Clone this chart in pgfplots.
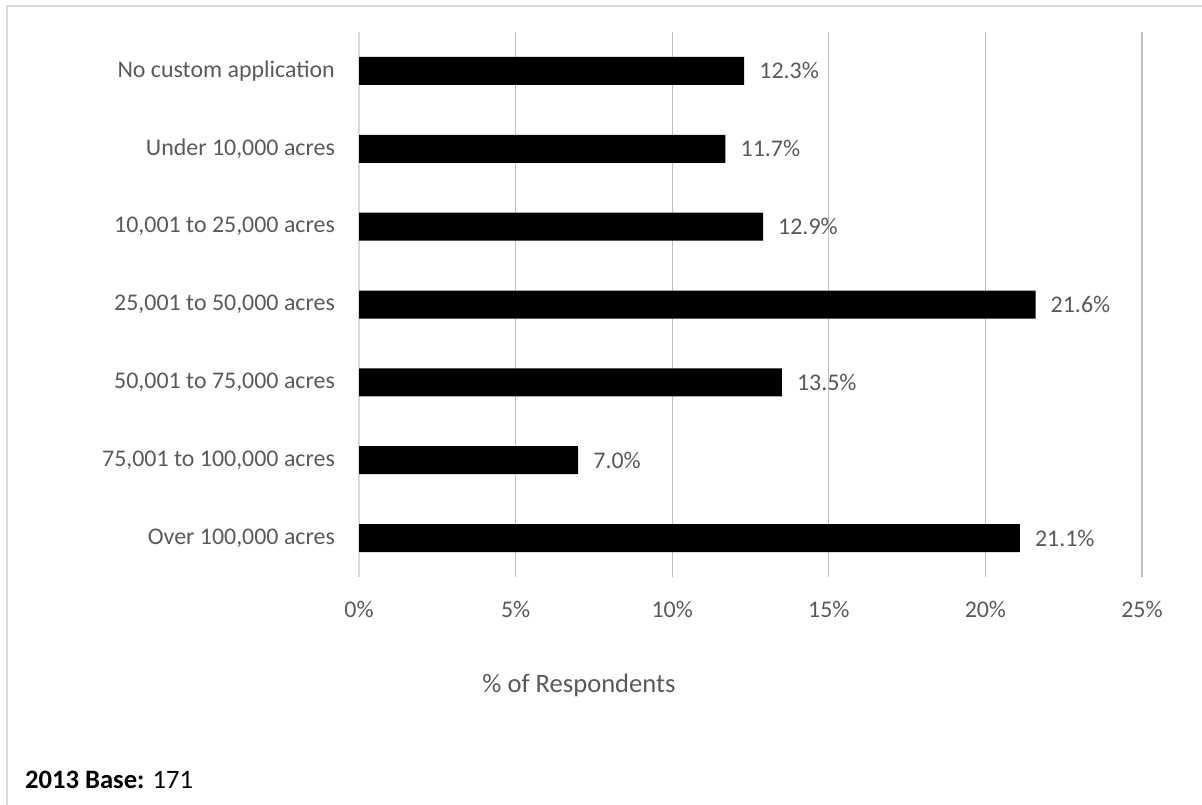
\documentclass[border=0pt]{standalone}
\usepackage{pgfplots}
\pgfplotsset{compat=1.18}
\usepackage{fontspec}
\setmainfont{Carlito}
\definecolor{txt}{HTML}{595959}
\definecolor{grid}{HTML}{D9D9D9}
\begin{document}
\begin{tikzpicture}[x=1bp,y=1bp]
\useasboundingbox (0,0) rectangle (1202,-805);
\draw[grid,line width=2bp] (7,-805) -- (7,-6) -- (1202,-6);
\begin{axis}[
  at={(359bp,-577bp)}, anchor=south west,
  scale only axis, width=783bp, height=545bp,
  xbar, bar width=28bp,
  xmin=0, xmax=25,
  ymin=-0.5, ymax=6.5,
  ytick={0,...,6},
  yticklabels={{Over 100,000 acres},{75,001 to 100,000 acres},{50,001 to 75,000 acres},{25,001 to 50,000 acres},{10,001 to 25,000 acres},{Under 10,000 acres},{No custom application}},
  xtick={0,5,...,25},
  xticklabel={\pgfmathprintnumber{\tick}\%},
  /pgf/number format/assume math mode=true,
  separate axis lines,
  axis x line*=bottom, axis y line*=left,
  x axis line style={draw=none, -},
  y axis line style={draw=grid, line width=1.3bp, -},
  major tick length=0pt,
  tick style={draw=none},
  xmajorgrids, ymajorgrids=false,
  grid style={grid, line width=1.3bp},
  tick label style={font=\fontsize{24}{26}\selectfont, text=txt, inner sep=0pt},
  yticklabel style={anchor=east, xshift=-24bp},
  xticklabel style={anchor=north, yshift=-24bp},
  nodes near coords={\pgfmathprintnumber[fixed,fixed zerofill,precision=1]{\pgfplotspointmeta}\%},
  nodes near coords align={horizontal},
  nodes near coords style={font=\fontsize{24}{26}\selectfont, text=txt, inner sep=0pt, anchor=west, xshift=15bp},
  point meta=explicit,
  clip=false,
]
\addplot[fill=black, draw=none] coordinates {
  (21.1,0) [21.1]
  (7.0,1) [7.0]
  (13.5,2) [13.5]
  (21.6,3) [21.6]
  (12.9,4) [12.9]
  (11.7,5) [11.7]
  (12.3,6) [12.3]
};
\end{axis}
\node[anchor=base, inner sep=0, text=txt, font=\fontsize{26.7}{28}\selectfont] at (579,-692) {\% of Respondents};
\node[anchor=base west, inner sep=0, font=\fontsize{26.7}{28}\selectfont] at (25,-788) {\textbf{2013 Base:} 171};
\end{tikzpicture}
\end{document}
